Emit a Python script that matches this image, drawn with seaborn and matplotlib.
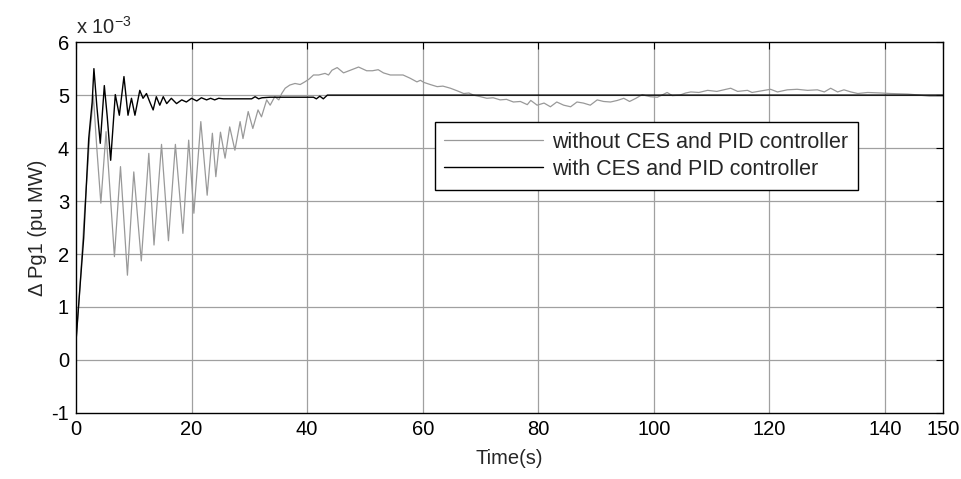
import matplotlib
matplotlib.use("Agg")
import matplotlib.pyplot as plt
import seaborn as sns
import pandas as pd

# Time (s) and ΔPg1 (x 1e-3 pu MW)
t_without = [0, 0.7, 1.2, 1.5, 2.0, 2.4, 2.7, 3.0, 3.6, 4.3, 5.2, 6.65, 7.7, 8.9, 10.0, 11.3,
             12.6, 13.5, 14.8, 16.0, 17.2, 18.5, 19.5, 20.4, 21.6, 22.7, 23.6, 24.2, 25.0, 25.8,
             26.6, 27.5, 28.4, 28.9, 29.8, 30.6, 31.5, 32.1, 33.0, 33.6, 34.4, 35.1, 35.6, 36.2,
             37.0, 37.9, 38.8, 39.6, 40.3, 41.1, 42.0, 43.1, 43.7, 44.3, 45.2, 46.3, 47.5, 48.9,
             50.3, 51.3, 52.3, 53.2, 54.4, 55.5, 56.6, 57.8, 59.0, 59.6, 60.2, 61.3, 62.5, 63.5,
             64.8, 66.0, 67.1, 68.0, 68.8, 70.0, 71.1, 72.2, 73.4, 74.5, 75.7, 76.9, 78.1, 78.7,
             79.8, 81.0, 82.1, 83.2, 84.4, 85.6, 86.7, 87.8, 89.0, 90.2, 91.3, 92.5, 93.7, 94.8,
             95.8, 96.9, 98.0, 98.6, 99.4, 100.6, 101.4, 102.3, 103.2, 104.5, 105.5, 106.4, 107.8,
             109.3, 110.9, 112.1, 113.3, 114.5, 116.2, 117.0, 119.1, 120.2, 121.4, 123.1, 124.8,
             126.6, 128.3, 129.5, 130.6, 131.8, 132.9, 134.1, 135.3, 137.0, 139.3, 141.0, 143.9,
             145.0, 147.7, 150.0]
p_without = [0.35, 1.4, 2.3, 2.83, 3.6, 4.3, 4.6, 5.0, 4.0, 2.96, 4.31, 1.95, 3.65, 1.6, 3.55, 1.87,
             3.9, 2.17, 4.07, 2.25, 4.07, 2.39, 4.15, 2.77, 4.5, 3.11, 4.28, 3.46, 4.3, 3.81,
             4.4, 3.96, 4.5, 4.18, 4.69, 4.37, 4.72, 4.59, 4.91, 4.81, 4.97, 4.91, 5.03, 5.13,
             5.19, 5.22, 5.2, 5.25, 5.3, 5.38, 5.38, 5.41, 5.38, 5.47, 5.52, 5.42, 5.47, 5.53,
             5.46, 5.46, 5.48, 5.42, 5.38, 5.38, 5.38, 5.32, 5.25, 5.28, 5.24, 5.2, 5.16, 5.17,
             5.13, 5.08, 5.03, 5.04, 5.0, 4.97, 4.94, 4.95, 4.91, 4.92, 4.87, 4.88, 4.82, 4.9,
             4.81, 4.85, 4.78, 4.87, 4.81, 4.78, 4.87, 4.85, 4.81, 4.91, 4.88, 4.87, 4.9, 4.94,
             4.88, 4.94, 5.01, 4.99, 4.97, 4.96, 5.0, 5.05, 4.99, 5.0, 5.04, 5.06, 5.05,
             5.09, 5.07, 5.1, 5.13, 5.07, 5.09, 5.05, 5.09, 5.11, 5.06, 5.1, 5.11,
             5.09, 5.1, 5.06, 5.13, 5.06, 5.1, 5.06, 5.03, 5.05, 5.04, 5.03, 5.02,
             5.01, 4.98, 4.98]

t_with = [0, 0.76, 1.33, 2.2, 2.8, 3.1, 3.6, 4.2, 4.9, 5.4, 6.0, 6.8, 7.5, 8.3, 9.0, 9.6, 10.2,
          11.04, 11.6, 12.2, 12.77, 13.35, 13.9, 14.5, 15.1, 15.7, 16.5, 17.4, 18.3, 19.1, 20.0,
          20.9, 21.7, 22.6, 23.3, 24.0, 24.7, 25.5, 30.4, 31.0, 31.6, 32.2, 33.6, 41.1, 41.6,
          42.2, 42.8, 43.5, 150.0]
p_with = [0.35, 1.48, 2.3, 4.18, 4.87, 5.5, 4.8, 4.09, 5.18, 4.6, 3.77, 5.01, 4.62, 5.35, 4.62, 4.94, 4.62,
          5.09, 4.94, 5.03, 4.87, 4.72, 4.97, 4.81, 4.97, 4.84, 4.94, 4.84, 4.91, 4.87, 4.94,
          4.89, 4.95, 4.91, 4.94, 4.91, 4.94, 4.93, 4.93, 4.97, 4.93, 4.95, 4.96, 4.96, 4.93,
          4.98, 4.93, 5.0, 5.0]

labels = ["without CES and PID controller", "with CES and PID controller"]
x_ticks = [0, 20, 40, 60, 80, 100, 120, 140, 150]
y_ticks = [-1, 0, 1, 2, 3, 4, 5, 6]

sns.set_style("white")
plt.rcParams["font.family"] = ["Liberation Sans", "DejaVu Sans"]
plt.rcParams["mathtext.fontset"] = "custom"
plt.rcParams["mathtext.rm"] = "Liberation Sans"

fig = plt.figure(figsize=(9.62, 4.79), dpi=100)
ax = fig.add_axes([0.079, 0.138, 0.901, 0.774])

df1 = pd.DataFrame({"t": t_without, "p": p_without})
df2 = pd.DataFrame({"t": t_with, "p": p_with})

for v in x_ticks[1:-1]:
    ax.axvline(v, color="#a0a0a0", lw=0.9, zorder=0)
for v in y_ticks[1:-1]:
    ax.axhline(v, color="#a0a0a0", lw=0.9, zorder=0)

sns.lineplot(data=df1, x="t", y="p", ax=ax, color="#999999", lw=0.9,
             estimator=None, sort=False, label=labels[0])
sns.lineplot(data=df2, x="t", y="p", ax=ax, color="black", lw=1.0,
             estimator=None, sort=False, label=labels[1])

fs = 14.5
ax.set_xlim(0, 150)
ax.set_ylim(-1, 6)
ax.set_xticks(x_ticks)
ax.set_yticks(y_ticks)
ax.set_xticklabels([str(v) for v in x_ticks])
ax.set_yticklabels([str(v) for v in y_ticks])
ax.tick_params(direction="in", length=5, width=0.8, labelsize=fs, colors="black",
               top=True, right=True, pad=5)
for s in ax.spines.values():
    s.set_color("black")
    s.set_linewidth(1.0)

ax.set_xlabel("Time(s)", fontsize=fs, labelpad=7)
ax.set_ylabel("Δ Pg1 (pu MW)", fontsize=fs, labelpad=3)
ax.text(0.0, 1.012, r"x 10$^{-3}$", transform=ax.transAxes, fontsize=fs,
        ha="left", va="bottom")

leg = ax.legend(loc="upper right", bbox_to_anchor=(0.902, 0.785), fontsize=15.5,
                frameon=True, fancybox=False, edgecolor="black", framealpha=1,
                handlelength=4.6, borderpad=0.45, labelspacing=0.3, handletextpad=0.4,
                borderaxespad=0)
leg.get_frame().set_linewidth(1.0)

fig.savefig("out.png", dpi=100)
